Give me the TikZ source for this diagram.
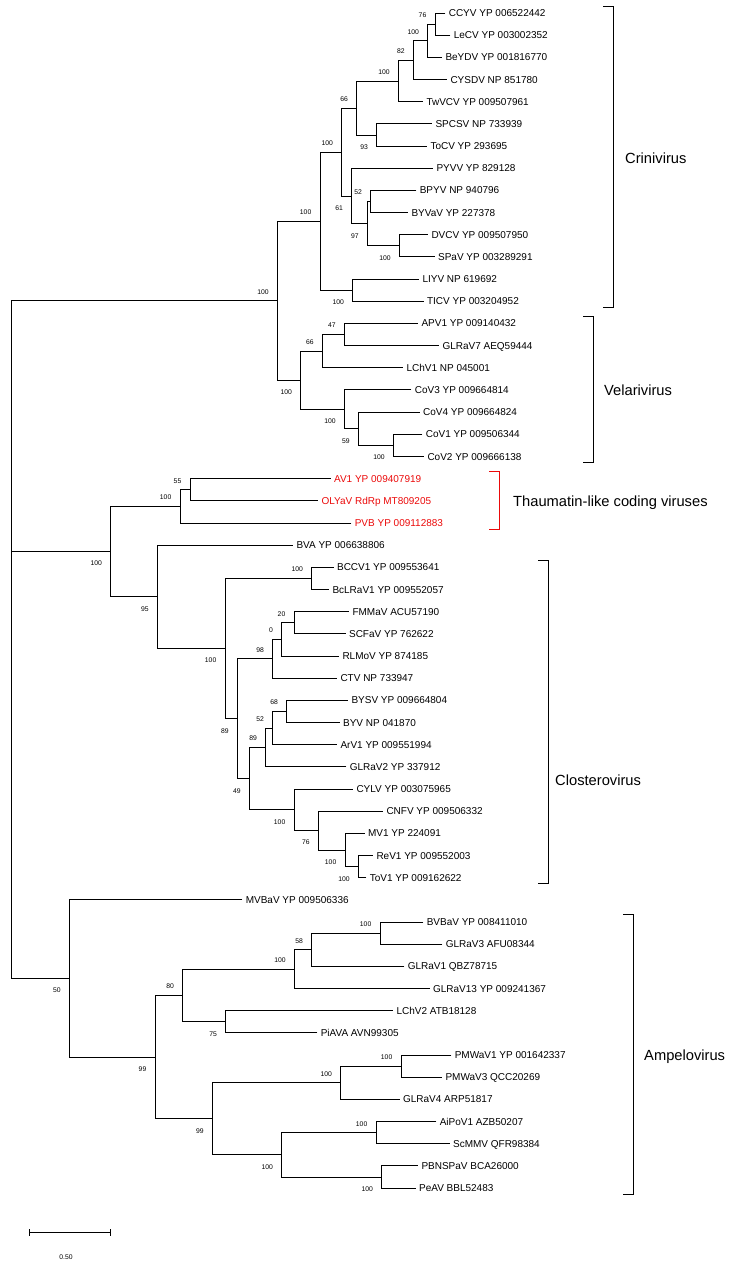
\documentclass[tikz,border=0pt]{standalone}
\usepackage{fontspec}
\setmainfont{Liberation Sans}
\definecolor{thred}{RGB}{235,10,10}
\begin{document}
\begin{tikzpicture}[x=1pt,y=-1pt,
  branch/.style={draw=black,line width=0.8pt,line cap=rect},
  leaf/.style={font=\fontsize{10}{12}\selectfont,anchor=west,inner sep=0pt,text height=7.2pt,text depth=0pt,xshift=3.6pt},
  rleaf/.style={leaf,text=thred},
  bs/.style={font=\fontsize{6.8}{8}\selectfont,inner sep=0pt,text height=4.9pt,text depth=0pt,anchor=east},
  bsa/.style={bs,xshift=-8.5pt,yshift=9pt},
  bsb/.style={bs,xshift=-8.5pt,yshift=-12pt},
  clade/.style={font=\fontsize{14.7}{17}\selectfont,anchor=west,inner sep=0pt,text height=10.5pt,text depth=0pt},
  brk/.style={draw=black,line width=0.8pt},
  rbrk/.style={draw=thred,line width=0.8pt}]
\useasboundingbox (0,0) rectangle (739,1264);
% ---------- leaf tips ----------
\coordinate (tCCYV) at (445,13.00);
\coordinate (tLeCV) at (450,35.17);
\coordinate (tBeYDV) at (441.7,57.34);
\coordinate (tCYSDV) at (446.7,79.51);
\coordinate (tTwVCV) at (422.7,101.68);
\coordinate (tSPCSV) at (431.7,123.85);
\coordinate (tToCV) at (426.7,146.02);
\coordinate (tPYVV) at (432.7,168.19);
\coordinate (tBPYV) at (416,190.36);
\coordinate (tBYVaV) at (407.7,212.53);
\coordinate (tDVCV) at (427.7,234.70);
\coordinate (tSPaV) at (434.3,256.87);
\coordinate (tLIYV) at (418.7,279.04);
\coordinate (tTICV) at (423.3,301.21);
\coordinate (tAPV1) at (417.7,323.38);
\coordinate (tGLRaV7) at (438.7,345.55);
\coordinate (tLChV1) at (402.7,367.72);
\coordinate (tCoV3) at (411,389.89);
\coordinate (tCoV4) at (419.3,412.06);
\coordinate (tCoV1) at (422,434.23);
\coordinate (tCoV2) at (423.7,456.40);
\coordinate (tAV1) at (330.3,478.57);
\coordinate (tOLYaV) at (317.7,500.74);
\coordinate (tPVB) at (351,522.91);
\coordinate (tBVA) at (292.7,545.08);
\coordinate (tBCCV1) at (333.3,567.25);
\coordinate (tBcLRaV1) at (328.7,589.42);
\coordinate (tFMMaV) at (348.7,611.59);
\coordinate (tSCFaV) at (345.3,633.76);
\coordinate (tRLMoV) at (338.7,655.93);
\coordinate (tCTV) at (336.7,678.10);
\coordinate (tBYSV) at (347.7,700.27);
\coordinate (tBYV) at (339.3,722.44);
\coordinate (tArV1) at (336.7,744.61);
\coordinate (tGLRaV2) at (346,766.78);
\coordinate (tCYLV) at (352.7,788.95);
\coordinate (tCNFV) at (382.7,811.12);
\coordinate (tMV1) at (364.3,833.29);
\coordinate (tReV1) at (372.7,855.46);
\coordinate (tToV1) at (366,877.63);
\coordinate (tMVBaV) at (242,899.80);
\coordinate (tBVBaV) at (423,921.97);
\coordinate (tGLRaV3) at (442,944.14);
\coordinate (tGLRaV1) at (404,966.31);
\coordinate (tGLRaV13) at (429.3,988.48);
\coordinate (tLChV2) at (392.7,1010.65);
\coordinate (tPiAVA) at (317,1032.82);
\coordinate (tPMWaV1) at (451,1054.99);
\coordinate (tPMWaV3) at (441.7,1077.16);
\coordinate (tGLRaV4) at (399.3,1099.33);
\coordinate (tAiPoV1) at (436,1121.50);
\coordinate (tScMMV) at (449.3,1143.67);
\coordinate (tPBNSPaV) at (417.7,1165.84);
\coordinate (tPeAV) at (415.3,1188.01);
% ---------- leaf labels ----------
\node[leaf] (CCYV) at (tCCYV) {CCYV YP 006522442};
\node[leaf] (LeCV) at (tLeCV) {LeCV YP 003002352};
\node[leaf] (BeYDV) at (tBeYDV) {BeYDV YP 001816770};
\node[leaf] (CYSDV) at (tCYSDV) {CYSDV NP 851780};
\node[leaf] (TwVCV) at (tTwVCV) {TwVCV YP 009507961};
\node[leaf] (SPCSV) at (tSPCSV) {SPCSV NP 733939};
\node[leaf] (ToCV) at (tToCV) {ToCV YP 293695};
\node[leaf] (PYVV) at (tPYVV) {PYVV YP 829128};
\node[leaf] (BPYV) at (tBPYV) {BPYV NP 940796};
\node[leaf] (BYVaV) at (tBYVaV) {BYVaV YP 227378};
\node[leaf] (DVCV) at (tDVCV) {DVCV YP 009507950};
\node[leaf] (SPaV) at (tSPaV) {SPaV YP 003289291};
\node[leaf] (LIYV) at (tLIYV) {LIYV NP 619692};
\node[leaf] (TICV) at (tTICV) {TICV YP 003204952};
\node[leaf] (APV1) at (tAPV1) {APV1 YP 009140432};
\node[leaf] (GLRaV7) at (tGLRaV7) {GLRaV7 AEQ59444};
\node[leaf] (LChV1) at (tLChV1) {LChV1 NP 045001};
\node[leaf] (CoV3) at (tCoV3) {CoV3 YP 009664814};
\node[leaf] (CoV4) at (tCoV4) {CoV4 YP 009664824};
\node[leaf] (CoV1) at (tCoV1) {CoV1 YP 009506344};
\node[leaf] (CoV2) at (tCoV2) {CoV2 YP 009666138};
\node[rleaf] (AV1) at (tAV1) {AV1 YP 009407919};
\node[rleaf] (OLYaV) at (tOLYaV) {OLYaV RdRp MT809205};
\node[rleaf] (PVB) at (tPVB) {PVB YP 009112883};
\node[leaf] (BVA) at (tBVA) {BVA YP 006638806};
\node[leaf] (BCCV1) at (tBCCV1) {BCCV1 YP 009553641};
\node[leaf] (BcLRaV1) at (tBcLRaV1) {BcLRaV1 YP 009552057};
\node[leaf] (FMMaV) at (tFMMaV) {FMMaV ACU57190};
\node[leaf] (SCFaV) at (tSCFaV) {SCFaV YP 762622};
\node[leaf] (RLMoV) at (tRLMoV) {RLMoV YP 874185};
\node[leaf] (CTV) at (tCTV) {CTV NP 733947};
\node[leaf] (BYSV) at (tBYSV) {BYSV YP 009664804};
\node[leaf] (BYV) at (tBYV) {BYV NP 041870};
\node[leaf] (ArV1) at (tArV1) {ArV1 YP 009551994};
\node[leaf] (GLRaV2) at (tGLRaV2) {GLRaV2 YP 337912};
\node[leaf] (CYLV) at (tCYLV) {CYLV YP 003075965};
\node[leaf] (CNFV) at (tCNFV) {CNFV YP 009506332};
\node[leaf] (MV1) at (tMV1) {MV1 YP 224091};
\node[leaf] (ReV1) at (tReV1) {ReV1 YP 009552003};
\node[leaf] (ToV1) at (tToV1) {ToV1 YP 009162622};
\node[leaf] (MVBaV) at (tMVBaV) {MVBaV YP 009506336};
\node[leaf] (BVBaV) at (tBVBaV) {BVBaV YP 008411010};
\node[leaf] (GLRaV3) at (tGLRaV3) {GLRaV3 AFU08344};
\node[leaf] (GLRaV1) at (tGLRaV1) {GLRaV1 QBZ78715};
\node[leaf] (GLRaV13) at (tGLRaV13) {GLRaV13 YP 009241367};
\node[leaf] (LChV2) at (tLChV2) {LChV2 ATB18128};
\node[leaf] (PiAVA) at (tPiAVA) {PiAVA AVN99305};
\node[leaf] (PMWaV1) at (tPMWaV1) {PMWaV1 YP 001642337};
\node[leaf] (PMWaV3) at (tPMWaV3) {PMWaV3 QCC20269};
\node[leaf] (GLRaV4) at (tGLRaV4) {GLRaV4 ARP51817};
\node[leaf] (AiPoV1) at (tAiPoV1) {AiPoV1 AZB50207};
\node[leaf] (ScMMV) at (tScMMV) {ScMMV QFR98384};
\node[leaf] (PBNSPaV) at (tPBNSPaV) {PBNSPaV BCA26000};
\node[leaf] (PeAV) at (tPeAV) {PeAV BBL52483};
% ---------- internal nodes ----------
\coordinate (n76) at (435,24.09);
\coordinate (n100a) at (427.7,40.71);
\coordinate (n82) at (413.3,60.11);
\coordinate (n100b) at (398.3,80.90);
\coordinate (n93) at (376.7,134.93);
\coordinate (n66) at (356.7,107.91);
\coordinate (n52) at (370.7,201.44);
\coordinate (n100c) at (399.3,245.78);
\coordinate (n97) at (367.3,223.61);
\coordinate (n61) at (351.7,195.90);
\coordinate (nA) at (341.7,151.90);
\coordinate (nL) at (352.7,290.12);
\coordinate (nCR) at (320,221.01);
\coordinate (n47) at (344.3,334.46);
\coordinate (n66v) at (322.3,351.09);
\coordinate (n100d) at (393.3,445.31);
\coordinate (n59) at (358.3,428.69);
\coordinate (n100v) at (344.3,409.29);
\coordinate (nV) at (300.7,380.19);
\coordinate (nCV) at (277.3,300.60);
\coordinate (n55) at (190,489.66);
\coordinate (nT) at (180,506.28);
\coordinate (nBC) at (311.7,578.34);
\coordinate (n20) at (294,622.68);
\coordinate (n0) at (281.7,639.30);
\coordinate (n98) at (272.7,658.70);
\coordinate (n68) at (286.7,711.36);
\coordinate (n52b) at (272.7,727.98);
\coordinate (n89b) at (265.7,747.38);
\coordinate (n100g) at (358.3,866.55);
\coordinate (n100f) at (345,849.92);
\coordinate (n76b) at (318.3,830.52);
\coordinate (n100e) at (294,809.73);
\coordinate (n49) at (249.3,778.56);
\coordinate (n89) at (237.3,718.63);
\coordinate (n100cl) at (225,648.49);
\coordinate (n95) at (157.3,596.78);
\coordinate (n100tc) at (110.7,551.53);
\coordinate (n100h) at (380,933.06);
\coordinate (n58) at (311.7,949.68);
\coordinate (n100am) at (294.3,969.08);
\coordinate (n75) at (225.7,1021.74);
\coordinate (n80) at (182.7,995.41);
\coordinate (n100j) at (401,1066.08);
\coordinate (n100i) at (340.7,1082.70);
\coordinate (n100l) at (376,1132.59);
\coordinate (n100m) at (381.7,1176.93);
\coordinate (n100k) at (281.7,1154.76);
\coordinate (n99b) at (212.3,1118.73);
\coordinate (n99) at (155,1057.07);
\coordinate (n50) at (69.3,978.44);
\coordinate (root) at (11.7,639.5);
% ---------- branches ----------
\draw[branch] (root) |- (nCV);
\draw[branch] (root) |- (n100tc);
\draw[branch] (root) |- (n50);
\draw[branch] (nCV) |- (nCR); \draw[branch] (nCV) |- (nV);
\draw[branch] (nCR) |- (nA); \draw[branch] (nCR) |- (nL);
\draw[branch] (nA) |- (n66); \draw[branch] (nA) |- (n61);
\draw[branch] (n66) |- (n100b); \draw[branch] (n66) |- (n93);
\draw[branch] (n100b) |- (n82); \draw[branch] (n100b) |- (tTwVCV);
\draw[branch] (n82) |- (n100a); \draw[branch] (n82) |- (tCYSDV);
\draw[branch] (n100a) |- (n76); \draw[branch] (n100a) |- (tBeYDV);
\draw[branch] (n76) |- (tCCYV); \draw[branch] (n76) |- (tLeCV);
\draw[branch] (n93) |- (tSPCSV); \draw[branch] (n93) |- (tToCV);
\draw[branch] (n61) |- (tPYVV); \draw[branch] (n61) |- (n97);
\draw[branch] (n97) |- (n52); \draw[branch] (n97) |- (n100c);
\draw[branch] (n52) |- (tBPYV); \draw[branch] (n52) |- (tBYVaV);
\draw[branch] (n100c) |- (tDVCV); \draw[branch] (n100c) |- (tSPaV);
\draw[branch] (nL) |- (tLIYV); \draw[branch] (nL) |- (tTICV);
\draw[branch] (nV) |- (n66v); \draw[branch] (nV) |- (n100v);
\draw[branch] (n66v) |- (n47); \draw[branch] (n66v) |- (tLChV1);
\draw[branch] (n47) |- (tAPV1); \draw[branch] (n47) |- (tGLRaV7);
\draw[branch] (n100v) |- (tCoV3); \draw[branch] (n100v) |- (n59);
\draw[branch] (n59) |- (tCoV4); \draw[branch] (n59) |- (n100d);
\draw[branch] (n100d) |- (tCoV1); \draw[branch] (n100d) |- (tCoV2);
\draw[branch] (n100tc) |- (nT); \draw[branch] (n100tc) |- (n95);
\draw[branch] (nT) |- (n55); \draw[branch] (nT) |- (tPVB);
\draw[branch] (n55) |- (tAV1); \draw[branch] (n55) |- (tOLYaV);
\draw[branch] (n95) |- (tBVA); \draw[branch] (n95) |- (n100cl);
\draw[branch] (n100cl) |- (nBC); \draw[branch] (n100cl) |- (n89);
\draw[branch] (nBC) |- (tBCCV1); \draw[branch] (nBC) |- (tBcLRaV1);
\draw[branch] (n89) |- (n98); \draw[branch] (n89) |- (n49);
\draw[branch] (n98) |- (n0); \draw[branch] (n98) |- (tCTV);
\draw[branch] (n0) |- (n20); \draw[branch] (n0) |- (tRLMoV);
\draw[branch] (n20) |- (tFMMaV); \draw[branch] (n20) |- (tSCFaV);
\draw[branch] (n49) |- (n89b); \draw[branch] (n49) |- (n100e);
\draw[branch] (n89b) |- (n52b); \draw[branch] (n89b) |- (tGLRaV2);
\draw[branch] (n52b) |- (n68); \draw[branch] (n52b) |- (tArV1);
\draw[branch] (n68) |- (tBYSV); \draw[branch] (n68) |- (tBYV);
\draw[branch] (n100e) |- (tCYLV); \draw[branch] (n100e) |- (n76b);
\draw[branch] (n76b) |- (tCNFV); \draw[branch] (n76b) |- (n100f);
\draw[branch] (n100f) |- (tMV1); \draw[branch] (n100f) |- (n100g);
\draw[branch] (n100g) |- (tReV1); \draw[branch] (n100g) |- (tToV1);
\draw[branch] (n50) |- (tMVBaV); \draw[branch] (n50) |- (n99);
\draw[branch] (n99) |- (n80); \draw[branch] (n99) |- (n99b);
\draw[branch] (n80) |- (n100am); \draw[branch] (n80) |- (n75);
\draw[branch] (n100am) |- (n58); \draw[branch] (n100am) |- (tGLRaV13);
\draw[branch] (n58) |- (n100h); \draw[branch] (n58) |- (tGLRaV1);
\draw[branch] (n100h) |- (tBVBaV); \draw[branch] (n100h) |- (tGLRaV3);
\draw[branch] (n75) |- (tLChV2); \draw[branch] (n75) |- (tPiAVA);
\draw[branch] (n99b) |- (n100i); \draw[branch] (n99b) |- (n100k);
\draw[branch] (n100i) |- (n100j); \draw[branch] (n100i) |- (tGLRaV4);
\draw[branch] (n100j) |- (tPMWaV1); \draw[branch] (n100j) |- (tPMWaV3);
\draw[branch] (n100k) |- (n100l); \draw[branch] (n100k) |- (n100m);
\draw[branch] (n100l) |- (tAiPoV1); \draw[branch] (n100l) |- (tScMMV);
\draw[branch] (n100m) |- (tPBNSPaV); \draw[branch] (n100m) |- (tPeAV);
% ---------- bootstrap values ----------
\node[bsa] (b76) at (n76) {76};
\node[bsa] (b100a) at (n100a) {100};
\node[bsa] (b82) at (n82) {82};
\node[bsa] (b100b) at (n100b) {100};
\node[bsa] (b66) at (n66) {66};
\node[bsb] (b93) at (n93) {93};
\node[bsa] (bA) at (nA) {100};
\node[bsa] (b52) at (n52) {52};
\node[bsb] (b61) at (n61) {61};
\node[bsb] (b97) at (n97) {97};
\node[bsb] (b100c) at (n100c) {100};
\node[bsa] (bCR) at (nCR) {100};
\node[bsb] (bL) at (nL) {100};
\node[bsa] (bCV) at (nCV) {100};
\node[bsa] (b47) at (n47) {47};
\node[bsa] (b66v) at (n66v) {66};
\node[bsb] (bV) at (nV) {100};
\node[bsb] (b100v) at (n100v) {100};
\node[bsb] (b59) at (n59) {59};
\node[bsb] (b100d) at (n100d) {100};
\node[bsa] (b55) at (n55) {55};
\node[bsa] (bT) at (nT) {100};
\node[bsb] (b100tc) at (n100tc) {100};
\node[bsb] (b95) at (n95) {95};
\node[bsa] (bBC) at (nBC) {100};
\node[bsb] (b100cl) at (n100cl) {100};
\node[bsa] (b20) at (n20) {20};
\node[bsa] (b0) at (n0) {0};
\node[bsa] (b98) at (n98) {98};
\node[bsb] (b89) at (n89) {89};
\node[bsa] (b68) at (n68) {68};
\node[bsa] (b52b) at (n52b) {52};
\node[bsa] (b89b) at (n89b) {89};
\node[bsb] (b49) at (n49) {49};
\node[bsb] (b100e) at (n100e) {100};
\node[bsb] (b76b) at (n76b) {76};
\node[bsb] (b100f) at (n100f) {100};
\node[bsb] (b100g) at (n100g) {100};
\node[bsb] (b50) at (n50) {50};
\node[bsa] (b80) at (n80) {80};
\node[bsb] (b75) at (n75) {75};
\node[bsa] (b100am) at (n100am) {100};
\node[bsa] (b58) at (n58) {58};
\node[bsa] (b100h) at (n100h) {100};
\node[bsb] (b99) at (n99) {99};
\node[bsb] (b99b) at (n99b) {99};
\node[bsa] (b100i) at (n100i) {100};
\node[bsa] (b100j) at (n100j) {100};
\node[bsa] (b100l) at (n100l) {100};
\node[bsb] (b100k) at (n100k) {100};
\node[bsb] (b100m) at (n100m) {100};
% ---------- clade brackets ----------
\coordinate (kCa) at (603,6); \coordinate (kCb) at (613,6);
\coordinate (kCc) at (613,307); \coordinate (kCd) at (603,307);
\draw[brk] (kCa) -- (kCb) -- (kCc) -- (kCd);
\node[clade] (Crini) at (625,158) {Crinivirus};
\coordinate (kVa) at (583,316); \coordinate (kVb) at (593,316);
\coordinate (kVc) at (593,462.5); \coordinate (kVd) at (583,462.5);
\draw[brk] (kVa) -- (kVb) -- (kVc) -- (kVd);
\node[clade] (Velari) at (604,390) {Velarivirus};
\coordinate (kTa) at (489,471.5); \coordinate (kTb) at (499,471.5);
\coordinate (kTc) at (499,529); \coordinate (kTd) at (489,529);
\draw[rbrk] (kTa) -- (kTb) -- (kTc) -- (kTd);
\node[clade] (Thaum) at (513,501) {Thaumatin-like coding viruses};
\coordinate (kLa) at (538.3,560); \coordinate (kLb) at (548.3,560);
\coordinate (kLc) at (548.3,883.3); \coordinate (kLd) at (538.3,883.3);
\draw[brk] (kLa) -- (kLb) -- (kLc) -- (kLd);
\node[clade] (Clostero) at (555,780) {Closterovirus};
\coordinate (kAa) at (623,914.5); \coordinate (kAb) at (633,914.5);
\coordinate (kAc) at (633,1194); \coordinate (kAd) at (623,1194);
\draw[brk] (kAa) -- (kAb) -- (kAc) -- (kAd);
\node[clade] (Ampelo) at (644,1055) {Ampelovirus};
% ---------- scale bar ----------
\coordinate (sbL) at (29.3,1232.7); \coordinate (sbR) at (110.7,1232.7);
\draw[branch,line cap=butt] (sbL) -- (sbR);
\draw[branch,line cap=butt] ([yshift=3.5pt]sbL) -- ([yshift=-3.5pt]sbL);
\draw[branch,line cap=butt] ([yshift=3.5pt]sbR) -- ([yshift=-3.5pt]sbR);
\node[bs,anchor=center] (sblab) at (66,1256.7) {0.50};
\end{tikzpicture}
\end{document}
